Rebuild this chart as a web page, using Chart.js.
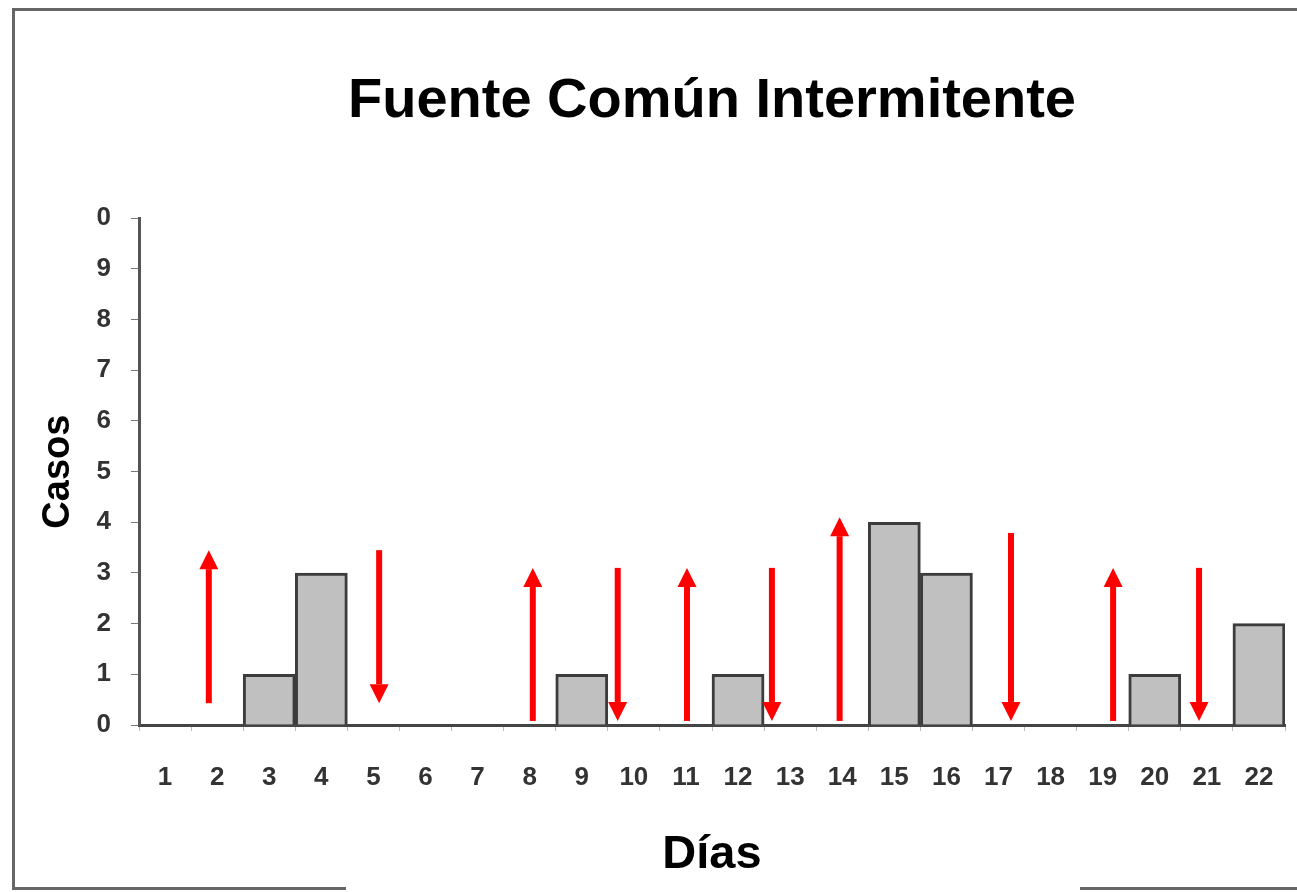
<!DOCTYPE html>
<html>
<head>
<meta charset="utf-8">
<script src="https://cdn.jsdelivr.net/npm/chart.js@4/dist/chart.umd.min.js"></script>
<style>
  html, body { margin: 0; padding: 0; background: #ffffff; }
  #wrap { position: relative; width: 1297px; height: 892px; }
  canvas { display: block; }
</style>
</head>
<body>
<div id="wrap"><canvas id="c" width="1297" height="892"></canvas></div>
<script>
// ---- data ----
const days = ['1','2','3','4','5','6','7','8','9','10','11','12','13','14','15','16','17','18','19','20','21','22'];
const cases = [0, 0, 1, 3, 0, 0, 0, 0, 1, 0, 0, 1, 0, 0, 4, 3, 0, 0, 0, 1, 0, 2];
const yTickLabels = ['0','1','2','3','4','5','6','7','8','9','0'];
// red arrows: position in days, start value, end value (direction from -> to)
const arrowDays = [1.84, 5.11, 8.06, 9.69, 11.02, 12.65, 13.95, 17.24, 19.2, 20.85];
const arrowFrom = [0.43, 3.45, 0.08, 3.10, 0.08, 3.10, 0.08, 3.79, 0.08, 3.10];
const arrowTo   = [3.45, 0.43, 3.10, 0.08, 3.10, 0.08, 4.10, 0.08, 3.10, 0.08];

const titleText = 'Fuente Común Intermitente';
const xTitle = 'Días';
const yTitle = 'Casos';

const FONT = "'Liberation Sans', Arial, sans-serif";

const framePlugin = {
  id: 'frame',
  beforeDraw(chart) {
    const ctx = chart.ctx;
    ctx.save();
    ctx.fillStyle = '#ffffff';
    ctx.fillRect(0, 0, chart.width, chart.height);
    ctx.strokeStyle = '#666666';
    ctx.lineWidth = 3;
    ctx.beginPath();
    ctx.moveTo(13.5, 888);
    ctx.lineTo(13.5, 9.5);
    ctx.lineTo(1297, 9.5);
    ctx.moveTo(12, 888.5);
    ctx.lineTo(346, 888.5);
    ctx.moveTo(1080, 888.5);
    ctx.lineTo(1297, 888.5);
    ctx.stroke();
    ctx.restore();
  }
};

const arrowPlugin = {
  id: 'arrows',
  afterDatasetsDraw(chart) {
    const ctx = chart.ctx;
    const xs = chart.scales.x, ys = chart.scales.y;
    ctx.save();
    ctx.fillStyle = '#ff0000';
    const shaft = 6, headW = 19, headL = 19;
    for (let i = 0; i < arrowDays.length; i++) {
      const x = xs.getPixelForValue(arrowDays[i] - 1);
      const y0 = ys.getPixelForValue(arrowFrom[i]);
      const y1 = ys.getPixelForValue(arrowTo[i]);
      const dir = y1 < y0 ? -1 : 1; // -1 up
      const headBase = y1 - dir * headL;
      ctx.fillRect(x - shaft / 2, Math.min(y0, headBase), shaft, Math.abs(headBase - y0));
      ctx.beginPath();
      ctx.moveTo(x, y1);
      ctx.lineTo(x - headW / 2, headBase);
      ctx.lineTo(x + headW / 2, headBase);
      ctx.closePath();
      ctx.fill();
    }
    ctx.restore();
  }
};

new Chart(document.getElementById('c'), {
  type: 'bar',
  data: {
    labels: days,
    datasets: [{
      data: cases,
      backgroundColor: '#c0c0c0',
      borderColor: '#3c3c3c',
      borderWidth: 3,
      borderSkipped: 'start',
      barPercentage: 1.0,
      categoryPercentage: 1.0
    }]
  },
  options: {
    responsive: false,
    animation: false,
    events: [],
    layout: { padding: { left: 0, right: 0, top: 0, bottom: 0 } },
    plugins: {
      legend: { display: false },
      tooltip: { enabled: false },
      title: {
        display: true,
        text: titleText,
        fullSize: false,
        color: '#000000',
        font: { family: FONT, size: 56, weight: 'bold' },
        padding: { top: 68, bottom: 83 }
      }
    },
    scales: {
      x: {
        grid: { display: true, drawOnChartArea: false, drawTicks: true, tickLength: 6, color: '#bbbbbb', lineWidth: 1, offset: true },
        border: { display: true, color: '#444444', width: 3 },
        ticks: { color: '#333333', font: { family: FONT, size: 26, weight: 'bold' }, padding: 31, maxRotation: 0, autoSkip: false },
        title: { display: true, text: xTitle, color: '#000000', font: { family: FONT, size: 47, weight: 'bold' }, padding: { top: 10, bottom: 9 } },
        afterFit(s) { s.height = 892 - 725; s.paddingLeft = 0; s.paddingRight = 12; }
      },
      y: {
        min: 0, max: 10,
        grid: { display: true, drawOnChartArea: false, drawTicks: true, tickLength: 8, color: '#777777', lineWidth: 1 },
        border: { display: true, color: '#555555', width: 3 },
        ticks: {
          stepSize: 1,
          color: '#333333',
          font: { family: FONT, size: 26, weight: 'bold' },
          padding: 20,
          callback: (v, i) => yTickLabels[i]
        },
        title: { display: true, text: yTitle, color: '#000000', font: { family: FONT, size: 38, weight: 'bold' }, padding: { top: 36, bottom: 0 } },
        afterFit(s) { s.width = 139; }
      }
    }
  },
  plugins: [framePlugin, arrowPlugin]
});
</script>
</body>
</html>
